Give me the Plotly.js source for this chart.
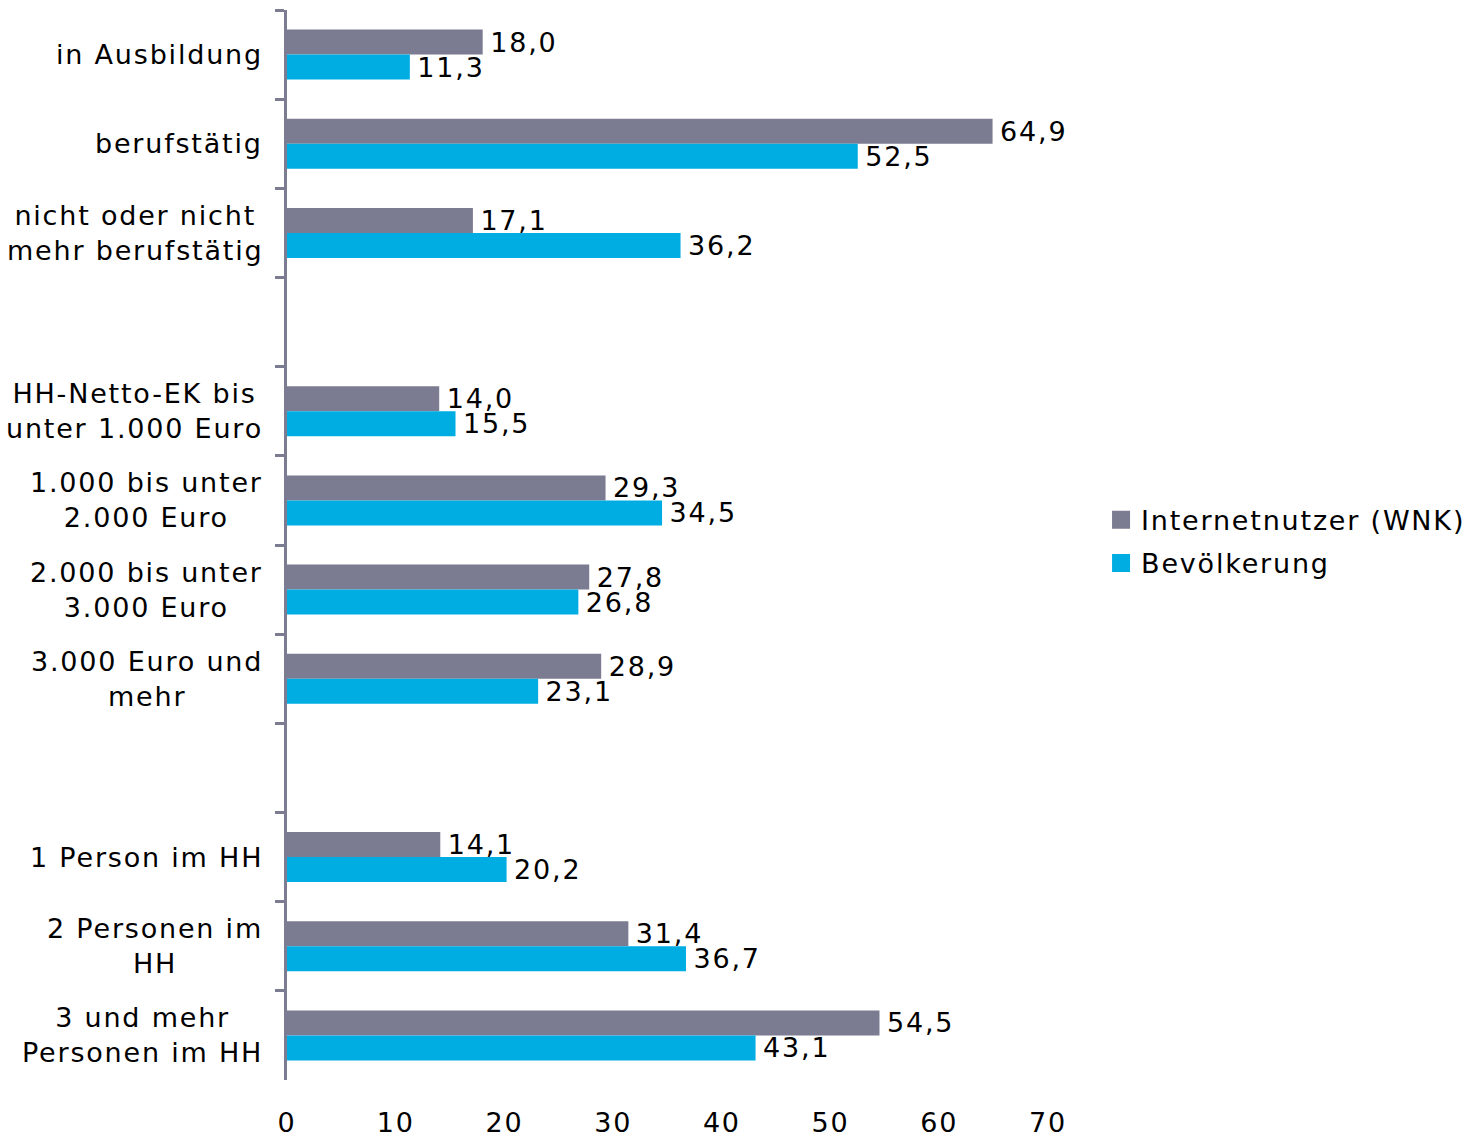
<!DOCTYPE html>
<html>
<head>
<meta charset="utf-8">
<script src="https://cdn.plot.ly/plotly-3.0.1.min.js"></script>
<style>
html,body{margin:0;padding:0;background:#fff;}
#chart{width:1472px;height:1140px;}
text{letter-spacing:1.8px;}
</style>
</head>
<body>
<div id="chart"></div>
<script>
const categories = [
  "in Ausbildung",
  "berufstätig",
  "nicht oder nicht<br>mehr berufstätig",
  " ",
  "HH-Netto-EK bis<br>unter 1.000 Euro",
  "1.000 bis unter<br>2.000 Euro",
  "2.000 bis unter<br>3.000 Euro",
  "3.000 Euro und<br>mehr",
  "  ",
  "1 Person im HH",
  "2 Personen im<br>HH",
  "3 und mehr<br>Personen im HH"
];
const internetnutzer = [18.0, 64.9, 17.1, null, 14.0, 29.3, 27.8, 28.9, null, 14.1, 31.4, 54.5];
const bevoelkerung   = [11.3, 52.5, 36.2, null, 15.5, 34.5, 26.8, 23.1, null, 20.2, 36.7, 43.1];
const seriesNames = ["Internetnutzer (WNK)", "Bevölkerung"];
const seriesColors = ["#7B7B91", "#00ADE3"];
const xTicks = [0, 10, 20, 30, 40, 50, 60, 70];

const FONT = "DejaVu Sans, Verdana, sans-serif";
const FS = 27;
const common = {
  type: "bar", orientation: "h", y: categories,
  texttemplate: "\u200A%{x:.1f}", textposition: "outside", cliponaxis: false,
  constraintext: "none",
  textfont: {family: FONT, size: FS, color: "#000"},
  hoverinfo: "skip", showlegend: false
};
const values = [internetnutzer, bevoelkerung];
const data = [];
values.forEach((v, i) => {
  data.push(Object.assign({}, common, {x: v, name: seriesNames[i], marker: {color: seriesColors[i]}}));
});
// legend entries (square swatches)
values.forEach((v, i) => {
  data.push({type: "scatter", mode: "markers", x: [null], y: [null], name: seriesNames[i],
    legendgroup: "g" + i, showlegend: true, hoverinfo: "skip",
    marker: {symbol: "square", size: 16, color: seriesColors[i], line: {width: 2, color: seriesColors[i]}}});
});

// category labels: right edge near the axis, lines centred (annotations placed on the category axis)
const annotations = categories.filter(c => c.trim() !== "").map(c => ({
  xref: "x", yref: "y", x: 0, y: c, text: c, showarrow: false,
  xanchor: "right", yanchor: "middle", align: "center", xshift: -22,
  font: {family: FONT, size: FS, color: "#000"}
}));

const layout = {
  width: 1472, height: 1140,
  margin: {l: 287, r: 424, t: 10, b: 60, autoexpand: false},
  paper_bgcolor: "#fff", plot_bgcolor: "#fff",
  separators: ",.",
  barmode: "group", bargap: 0.44, bargroupgap: 0,
  font: {family: FONT, size: FS, color: "#000"},
  xaxis: {range: [0, 70], tickvals: xTicks, showgrid: false, zeroline: false,
          showline: false, ticks: "", ticklabelstandoff: 24, fixedrange: true,
          tickfont: {family: FONT, size: FS, color: "#000"}},
  yaxis: {type: "category", categoryarray: categories, categoryorder: "array",
          autorange: "reversed", showgrid: false, zeroline: false,
          showline: true, linecolor: "#7B7B91", linewidth: 3,
          ticks: "outside", tickson: "boundaries", ticklen: 9, tickwidth: 3, tickcolor: "#7B7B91",
          showticklabels: false, fixedrange: true},
  annotations: annotations,
  showlegend: true,
  legend: {xref: "container", x: 0.748, xanchor: "left", y: 0.503, yanchor: "middle",
           font: {family: FONT, size: FS, color: "#000"}, itemwidth: 30, itemsizing: "trace",
           tracegroupgap: 5, bgcolor: "rgba(0,0,0,0)"}
};
Plotly.newPlot("chart", data, layout, {displayModeBar: false, staticPlot: true});
</script>
</body>
</html>
